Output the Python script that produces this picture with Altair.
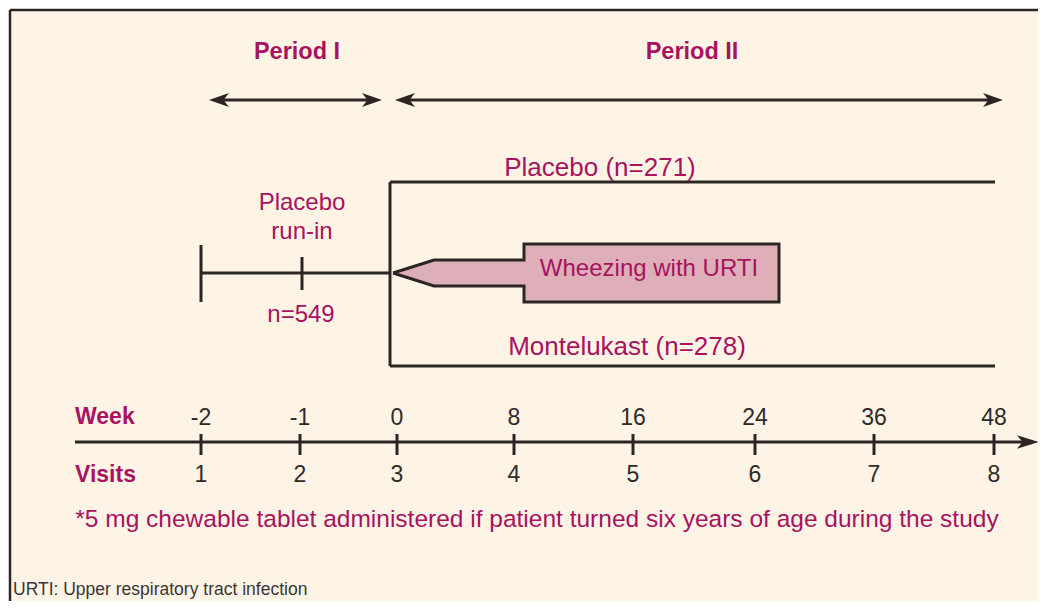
import altair as alt
import pandas as pd

# ---- diagram content ----
week_labels = ["-2", "-1", "0", "8", "16", "24", "36", "48"]
visit_labels = ["1", "2", "3", "4", "5", "6", "7", "8"]
tick_x = [201, 300, 397, 514, 633, 755, 874, 994]

period_names = ["Period I", "Period II"]
period_center = [297, 692]
period_start = [209, 395]
period_end = [382, 1003]

arm_labels = ["Placebo (n=271)", "Montelukast (n=278)"]
arm_label_x = [600, 627]
arm_label_y = [168, 347]
arm_line_y = [182, 366]
arm_start, arm_end = 390, 995

runin_labels = ["Placebo", "run-in", "n=549"]
runin_label_x = [302, 302, 301]
runin_label_y = [203, 232, 315]
runin_y = 273

strata_label = "Wheezing with URTI"
# pentagon outline (tip -> shoulder -> step -> box)
pent_x = [393, 434, 524, 524, 779, 779, 524, 524, 434, 393]
pent_y = [273, 260, 260, 244, 244, 302, 302, 286, 286, 273]

footnote = "*5 mg chewable tablet administered if patient turned six years of age during the study"
abbrev = "URTI: Upper respiratory tract infection"

MAG = "#A8125E"
DARK = "#2B2624"
CREAM = "#FEF4E6"
PINK = "#DEAFB9"
FONT = "Liberation Sans, Arial, sans-serif"

xs = alt.Scale(domain=[8, 1038], nice=False, zero=False)
ys = alt.Scale(domain=[8, 601], nice=False, zero=False, reverse=True)


def X(f="x"):
    return alt.X(f"{f}:Q", scale=xs, axis=None)


def Y(f="y"):
    return alt.Y(f"{f}:Q", scale=ys, axis=None, stack=None)


# background & frame
bg = alt.Chart(pd.DataFrame({"x": [10], "x2": [1046], "y": [10], "y2": [609]})).mark_rect(
    color=CREAM, clip=True
).encode(x=X(), x2="x2:Q", y=Y(), y2="y2:Q")

frame = alt.Chart(pd.DataFrame({
    "x": [10, 10], "x2": [1046, 10], "y": [10, 10], "y2": [10, 609]
})).mark_rule(color=DARK, strokeWidth=2.5, clip=True).encode(x=X(), x2="x2:Q", y=Y(), y2="y2:Q")

# line segments
segs = []
for s, e in zip(period_start, period_end):
    segs.append((s + 6, e - 6, 100, 100))
segs.append((201, arm_start, runin_y, runin_y))
segs.append((201, 201, 245, 302))
segs.append((302, 302, 257, 290))
segs.append((arm_start, arm_start, arm_line_y[0], arm_line_y[1]))
for yy in arm_line_y:
    segs.append((arm_start, arm_end, yy, yy))
segs.append((75, 1025, 442, 442))
for tx in tick_x:
    segs.append((tx, tx, 434, 455))
seg_df = pd.DataFrame(segs, columns=["x", "x2", "y", "y2"])
lines = alt.Chart(seg_df).mark_rule(color=DARK, strokeWidth=3).encode(
    x=X(), x2="x2:Q", y=Y(), y2="y2:Q"
)

# arrowheads
RIGHT = "M 1 0 L -1 -0.7 L -0.45 0 L -1 0.7 Z"
LEFT = "M -1 0 L 1 -0.7 L 0.45 0 L 1 0.7 Z"
heads_r = pd.DataFrame({"x": [e - 10 for e in period_end], "y": [100, 100]})
heads_l = pd.DataFrame({"x": [s + 10 for s in period_start], "y": [100, 100]})
ar = alt.Chart(heads_r).mark_point(shape=RIGHT, size=400, filled=True, color=DARK, opacity=1).encode(x=X(), y=Y())
al = alt.Chart(heads_l).mark_point(shape=LEFT, size=400, filled=True, color=DARK, opacity=1).encode(x=X(), y=Y())
RIGHT2 = "M 1 0 L -1 -0.62 L -0.5 0 L -1 0.62 Z"
axhead = alt.Chart(pd.DataFrame({"x": [1028], "y": [442]})).mark_point(
    shape=RIGHT2, size=484, filled=True, color=DARK, opacity=1
).encode(x=X(), y=Y())

# pentagon fill: box part as rect, tapered part as area
box_fill = alt.Chart(pd.DataFrame({"x": [524], "x2": [779], "y": [244], "y2": [302]})).mark_rect(
    color=PINK, opacity=1
).encode(x=X(), x2="x2:Q", y=Y(), y2="y2:Q")
taper_df = pd.DataFrame({
    "x": [393, 434, 526],
    "y": [273, 260, 260],
    "y2": [273, 286, 286],
})
taper_fill = alt.Chart(taper_df).mark_area(color=PINK, opacity=1, interpolate="linear", orient="vertical").encode(
    x=X(), y=Y(), y2="y2:Q"
)
pent_df = pd.DataFrame({"x": pent_x, "y": pent_y, "o": list(range(len(pent_x)))})
pent_line = alt.Chart(pent_df).mark_line(color=DARK, strokeWidth=3, strokeJoin="miter").encode(
    x=X(), y=Y(), order="o:Q"
)

# texts
reg = pd.DataFrame({
    "x": runin_label_x + [649],
    "y": runin_label_y + [269],
    "t": runin_labels + [strata_label],
})
t_reg = alt.Chart(reg).mark_text(font=FONT, fontSize=24, color=MAG, baseline="middle", align="center").encode(
    x=X(), y=Y(), text="t:N"
)
arms = pd.DataFrame({"x": arm_label_x, "y": arm_label_y, "t": arm_labels})
t_arms = alt.Chart(arms).mark_text(font=FONT, fontSize=26, color=MAG, baseline="middle", align="center").encode(
    x=X(), y=Y(), text="t:N"
)
t_foot = alt.Chart(pd.DataFrame({"x": [537], "y": [520], "t": [footnote]})).mark_text(
    font=FONT, fontSize=24.5, color=MAG, baseline="middle", align="center"
).encode(x=X(), y=Y(), text="t:N")
per = pd.DataFrame({"x": period_center, "y": [52, 52], "t": period_names})
t_per = alt.Chart(per).mark_text(font=FONT, fontSize=23.5, fontWeight="bold", color=MAG, baseline="middle", align="center").encode(
    x=X(), y=Y(), text="t:N"
)
rowlab = pd.DataFrame({"x": [75, 75], "y": [417, 475], "t": ["Week", "Visits"]})
t_row = alt.Chart(rowlab).mark_text(font=FONT, fontSize=23, fontWeight="bold", color=MAG, baseline="middle", align="left").encode(
    x=X(), y=Y(), text="t:N"
)
tl = pd.DataFrame({
    "x": tick_x + tick_x,
    "y": [418] * len(tick_x) + [475] * len(tick_x),
    "t": week_labels + visit_labels,
})
t_ticks = alt.Chart(tl).mark_text(font=FONT, fontSize=23, color="#2E2A28", baseline="middle", align="center").encode(
    x=X(), y=Y(), text="t:N"
)
t_abbr = alt.Chart(pd.DataFrame({"x": [13], "y": [590], "t": [abbrev]})).mark_text(
    font=FONT, fontSize=17.5, color="#3A3634", baseline="middle", align="left"
).encode(x=X(), y=Y(), text="t:N")

chart = alt.layer(
    bg, frame, lines, ar, al, axhead, box_fill, taper_fill, pent_line,
    t_reg, t_arms, t_foot, t_per, t_row, t_ticks, t_abbr
).properties(
    width=1030, height=593, padding=0, autosize=alt.AutoSizeParams(type="none"), background="white"
).configure_view(stroke=None)

chart.save("out.html", embed_options={"renderer": "svg", "actions": False})
